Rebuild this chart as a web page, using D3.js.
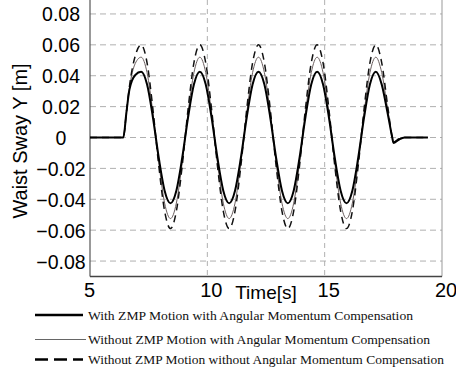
<!DOCTYPE html>
<html>
<head>
<meta charset="utf-8">
<script src="https://cdn.jsdelivr.net/npm/d3@7"></script>
<style>
  body { margin: 0; background: #fff; }
  svg { display: block; }
</style>
</head>
<body>
<div id="chart"></div>
<script>
// time samples [s]
var times = [5.0, 6.42, 6.55, 6.68, 6.93,
  7.18, 7.43, 7.68, 7.93, 8.18, 8.43, 8.68, 8.93, 9.18, 9.43,
  9.68, 9.93, 10.18, 10.43, 10.68, 10.93, 11.18, 11.43, 11.68, 11.93,
  12.18, 12.43, 12.68, 12.93, 13.18, 13.43, 13.68, 13.93, 14.18, 14.43,
  14.68, 14.93, 15.18, 15.43, 15.68, 15.93, 16.18, 16.43, 16.68, 16.93,
  17.18, 17.43, 17.68, 17.88, 17.93, 18.15, 18.4, 19.4];

// With ZMP Motion with Angular Momentum Compensation
var withZmpWithAm = [0, 0, 0.016, 0.031, 0.0405,
  0.0425, 0.0344, 0.0131, -0.0131, -0.0344, -0.0425, -0.0344, -0.0131, 0.0131, 0.0344,
  0.0425, 0.0344, 0.0131, -0.0131, -0.0344, -0.0425, -0.0344, -0.0131, 0.0131, 0.0344,
  0.0425, 0.0344, 0.0131, -0.0131, -0.0344, -0.0425, -0.0344, -0.0131, 0.0131, 0.0344,
  0.0425, 0.0344, 0.0131, -0.0131, -0.0344, -0.0425, -0.0344, -0.0131, 0.0131, 0.0344,
  0.0425, 0.0344, 0.016, 0.0, -0.0035, -0.0015, 0, 0];

// Without ZMP Motion with Angular Momentum Compensation
var withoutZmpWithAm = [0, 0, 0.016, 0.032, 0.048,
  0.052, 0.0421, 0.0161, -0.0162, -0.0425, -0.0525, -0.0425, -0.0162, 0.0161, 0.0421,
  0.052, 0.0421, 0.0161, -0.0162, -0.0425, -0.0525, -0.0425, -0.0162, 0.0161, 0.0421,
  0.052, 0.0421, 0.0161, -0.0162, -0.0425, -0.0525, -0.0425, -0.0162, 0.0161, 0.0421,
  0.052, 0.0421, 0.0161, -0.0162, -0.0425, -0.0525, -0.0425, -0.0162, 0.0161, 0.0421,
  0.052, 0.0421, 0.019, 0.0, -0.003, -0.001, 0, 0];

// Without ZMP Motion without Angular Momentum Compensation
var withoutZmpWithoutAm = [0, 0, 0.016, 0.033, 0.053,
  0.060, 0.0485, 0.0185, -0.0182, -0.0477, -0.059, -0.0477, -0.0182, 0.0185, 0.0485,
  0.060, 0.0485, 0.0185, -0.0182, -0.0477, -0.059, -0.0477, -0.0182, 0.0185, 0.0485,
  0.060, 0.0485, 0.0185, -0.0182, -0.0477, -0.059, -0.0477, -0.0182, 0.0185, 0.0485,
  0.060, 0.0485, 0.0185, -0.0182, -0.0477, -0.059, -0.0477, -0.0182, 0.0185, 0.0485,
  0.060, 0.0485, 0.021, 0.0, -0.003, -0.001, 0, 0];

var xTicks = [5, 10, 15, 20];
var yTicks = [-0.08, -0.06, -0.04, -0.02, 0, 0.02, 0.04, 0.06, 0.08];
var xGrid = [10, 15];

var legendLabels = [
  "With ZMP Motion with Angular Momentum Compensation",
  "Without ZMP Motion with Angular Momentum Compensation",
  "Without ZMP Motion without Angular Momentum Compensation"
];

var width = 456, height = 371;
var plot = {left: 90, right: 442, top: -1.5, bottom: 276.5};

var svg = d3.select("#chart").append("svg")
  .attr("width", width)
  .attr("height", height);

var xScale = d3.scaleLinear().domain([5, 20]).range([plot.left, plot.right]);
var yScale = d3.scaleLinear().domain([-0.09, 0.09]).range([plot.bottom, plot.top]);

var sansFont = "Arial, 'Liberation Sans', Helvetica, sans-serif";
var serifFont = "'Times New Roman', 'Liberation Serif', serif";

/* grid lines */
svg.append("g").selectAll("line.hgrid")
  .data(yTicks)
  .enter().append("line")
    .attr("class", "hgrid")
    .attr("x1", plot.left).attr("x2", plot.right)
    .attr("y1", d => yScale(d)).attr("y2", d => yScale(d))
    .attr("stroke", "#b0b0b0")
    .attr("stroke-width", 1)
    .attr("stroke-dasharray", "6,4");
svg.append("g").selectAll("line.vgrid")
  .data(xGrid)
  .enter().append("line")
    .attr("class", "vgrid")
    .attr("x1", d => xScale(d)).attr("x2", d => xScale(d))
    .attr("y1", 0).attr("y2", plot.bottom)
    .attr("stroke", "#b0b0b0")
    .attr("stroke-width", 1)
    .attr("stroke-dasharray", "5,4");

/* frame */
svg.append("line")
  .attr("x1", plot.right).attr("x2", plot.right)
  .attr("y1", 0).attr("y2", plot.bottom)
  .attr("stroke", "#999").attr("stroke-width", 1);
svg.append("line")
  .attr("x1", plot.left).attr("x2", plot.left)
  .attr("y1", 0).attr("y2", plot.bottom)
  .attr("stroke", "#555").attr("stroke-width", 1.2);
svg.append("line")
  .attr("x1", plot.left).attr("x2", plot.right)
  .attr("y1", plot.bottom).attr("y2", plot.bottom)
  .attr("stroke", "#444").attr("stroke-width", 1.5);

/* axes (labels only) */
var yAxis = d3.axisLeft(yScale)
  .tickValues(yTicks)
  .tickSize(0)
  .tickFormat(d => d === 0 ? "0" : d3.format(".2f")(d));
var yAxisG = svg.append("g")
  .attr("transform", "translate(" + plot.left + ",0)")
  .call(yAxis);
yAxisG.select(".domain").remove();
yAxisG.selectAll("text")
  .attr("x", -29)
  .attr("dy", "0.36em")
  .attr("text-anchor", "middle")
  .style("font-family", sansFont)
  .style("font-size", "19.5px")
  .attr("fill", "#000");

var xAxis = d3.axisBottom(xScale)
  .tickValues(xTicks)
  .tickSize(0)
  .tickFormat(d3.format("d"));
var xAxisG = svg.append("g")
  .attr("transform", "translate(0," + plot.bottom + ")")
  .call(xAxis);
xAxisG.select(".domain").remove();
xAxisG.selectAll("text")
  .attr("y", 20)
  .attr("dy", 0)
  .attr("dx", d => String(d).length > 1 ? 3.5 : -1)
  .attr("text-anchor", "middle")
  .style("font-family", sansFont)
  .style("font-size", "20px")
  .attr("fill", "#000");

svg.append("text")
  .attr("x", 266)
  .attr("y", 299)
  .attr("text-anchor", "middle")
  .style("font-family", sansFont)
  .style("font-size", "19px")
  .text("Time[s]");

svg.append("text")
  .attr("transform", "translate(27,141) rotate(-90)")
  .attr("text-anchor", "middle")
  .style("font-family", sansFont)
  .style("font-size", "20px")
  .text("Waist Sway Y [m]");

/* curves */
var series = [
  {values: withoutZmpWithAm, color: "#6a5e5e", width: 1, dash: null},
  {values: withoutZmpWithoutAm, color: "#111", width: 1.5, dash: "7,5"},
  {values: withZmpWithAm, color: "#000", width: 2, dash: null}
];

var line = d3.line()
  .x(d => xScale(d[0]))
  .y(d => yScale(d[1]))
  .curve(d3.curveMonotoneX);

svg.append("g").selectAll("path.curve")
  .data(series)
  .enter().append("path")
    .attr("class", "curve")
    .attr("d", s => line(times.map((t, i) => [t, s.values[i]])))
    .attr("fill", "none")
    .attr("stroke", s => s.color)
    .attr("stroke-width", s => s.width)
    .attr("stroke-dasharray", s => s.dash);

/* legend */
var legendItems = [
  {label: legendLabels[0], y: 315, color: "#000", width: 2.5, dash: null, x2: 83, len: 325},
  {label: legendLabels[1], y: 339.5, color: "#666", width: 1, dash: null, x2: 86, len: 342},
  {label: legendLabels[2], y: 359.5, color: "#000", width: 2.5, dash: "13,6", x2: 83, len: 356}
];
var legend = svg.append("g").selectAll("g.legend")
  .data(legendItems)
  .enter().append("g")
    .attr("class", "legend");
legend.append("line")
  .attr("x1", 35).attr("x2", d => d.x2)
  .attr("y1", d => d.y).attr("y2", d => d.y)
  .attr("stroke", d => d.color)
  .attr("stroke-width", d => d.width)
  .attr("stroke-dasharray", d => d.dash);
legend.append("text")
  .attr("x", 88)
  .attr("y", d => d.y + 4.5)
  .attr("textLength", d => d.len)
  .attr("lengthAdjust", "spacingAndGlyphs")
  .style("font-family", serifFont)
  .style("font-size", "13.5px")
  .attr("fill", "#111")
  .text(d => d.label);
</script>
</body>
</html>
